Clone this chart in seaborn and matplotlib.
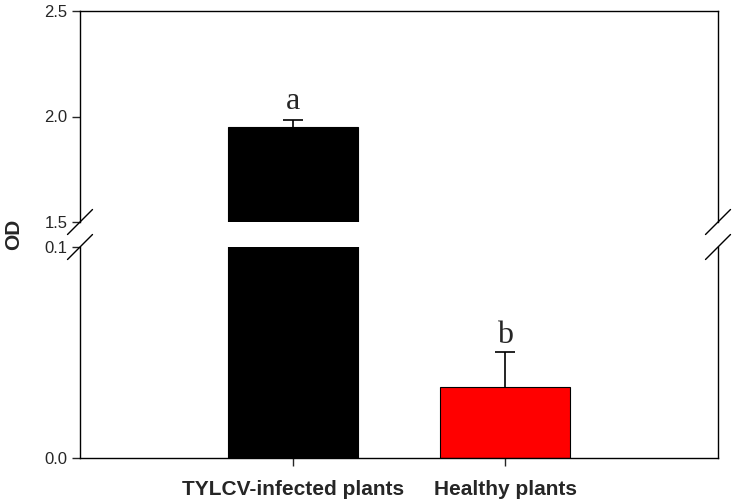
import numpy as np
import pandas as pd
import matplotlib
matplotlib.use("Agg")
import matplotlib.pyplot as plt
import seaborn as sns

categories = ["TYLCV-infected plants", "Healthy plants"]
od_means = [1.952, 0.0336]
od_errors = [0.033, 0.0166]
letters = ["a", "b"]
bar_colors = ["#000000", "#ff0000"]
upper_ticks = [1.5, 2.0, 2.5]
lower_ticks = [0.0, 0.1]

sns.set_style("ticks")
plt.rcParams['font.family'] = ['Liberation Sans', 'DejaVu Sans']

df = pd.DataFrame({"group": categories, "OD": od_means})

fig = plt.figure(figsize=(7.37, 5.04), dpi=100)
W, H = 737, 504
left, right = 80 / W, 718 / W
ax_up = fig.add_axes([left, 1 - 222 / H, right - left, (222 - 11) / H])
ax_lo = fig.add_axes([left, 1 - 458 / H, right - left, (458 - 247) / H])

for ax, ylim, ticks in [(ax_up, (1.5, 2.5), upper_ticks), (ax_lo, (0.0, 0.1), lower_ticks)]:
    sns.barplot(data=df, x="group", y="OD", hue="group", palette=bar_colors,
                order=categories, hue_order=categories, width=0.61,
                errorbar=None, legend=False, ax=ax, saturation=1,
                edgecolor="black", linewidth=0.8)
    x = np.arange(len(categories))
    eb = ax.errorbar(x, od_means, yerr=[np.zeros(len(od_errors)), od_errors],
                     fmt="none", ecolor="black", elinewidth=1.2, capsize=7,
                     capthick=1.2, zorder=3)
    for cl in eb[1]:
        if np.allclose(cl.get_ydata(), od_means):
            cl.set_visible(False)
    ax.set_ylim(*ylim)
    ax.set_xlim(-1, 2)
    ax.set_yticks(ticks)
    ax.set_yticklabels([f"{t:.1f}" for t in ticks], fontsize=12)
    ax.set_xlabel("")
    ax.set_ylabel("")
    for s in ax.spines.values():
        s.set_linewidth(1.0)
        s.set_color("black")
    ax.tick_params(axis="y", direction="out", length=6, width=1.0, pad=3)
    ax.tick_params(axis="x", direction="out", length=6, width=1.0)

ax_up.spines["bottom"].set_visible(False)
ax_up.spines["right"].set_visible(True)
ax_up.spines["top"].set_visible(True)
ax_up.tick_params(axis="x", bottom=False, labelbottom=False)
ax_lo.spines["top"].set_visible(False)
ax_lo.spines["right"].set_visible(True)
ax_lo.set_xticks(np.arange(len(categories)))
ax_lo.set_xticklabels(categories, fontsize=15, fontweight="bold")
ax_lo.tick_params(axis="x", pad=10)

ax_up.text(0, od_means[0] + od_errors[0] + 0.018, letters[0], ha="center", va="bottom",
           fontsize=23, family=["Liberation Serif", "DejaVu Serif"])
ax_lo.text(1, od_means[1] + od_errors[1] + 0.0012, letters[1], ha="center", va="bottom",
           fontsize=23, family=["Liberation Serif", "DejaVu Serif"])

fig.text(14 / W, 1 - 234 / H, "OD", rotation=90, ha="center", va="center",
         fontsize=15, fontweight="bold")

axw, uph = 638, 211
dx, dy = 12.5 / axw, 12.5 / uph
for xx in (0, 1):
    ax_up.plot([xx - dx, xx + dx], [-dy, dy], transform=ax_up.transAxes,
               color="black", lw=1.0, clip_on=False)
    ax_lo.plot([xx - dx, xx + dx], [1 - dy, 1 + dy], transform=ax_lo.transAxes,
               color="black", lw=1.0, clip_on=False)

fig.savefig("out.png", dpi=100)
